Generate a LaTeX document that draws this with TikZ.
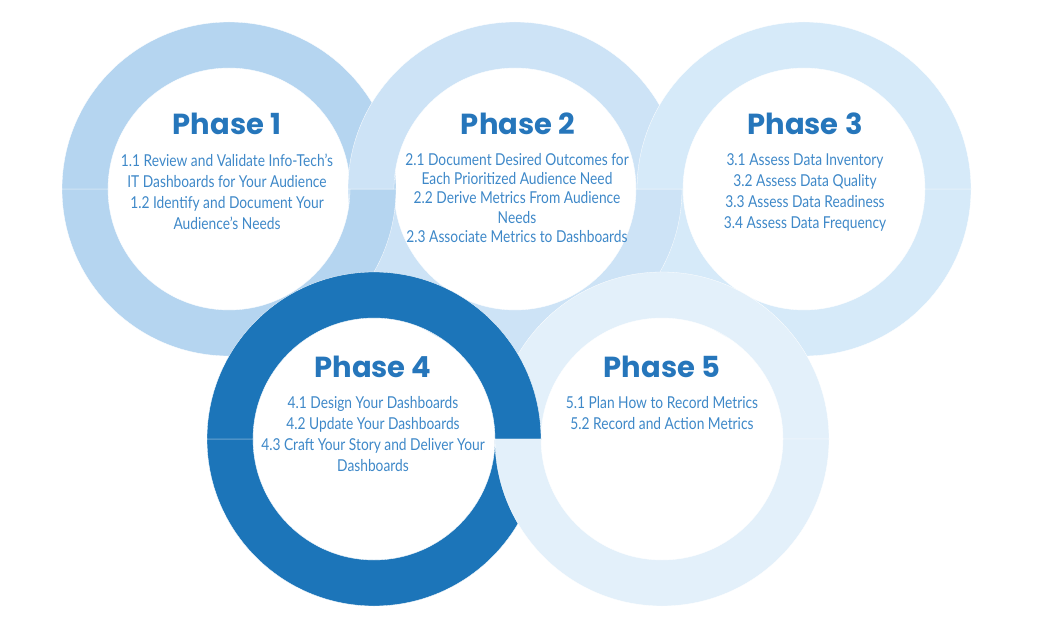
\documentclass[tikz,border=0pt]{standalone}
\usepackage{fontspec}
\newfontfamily\headfont{Poppins}
\newfontfamily\bodyfont{Lato}[FakeStretch=0.84]

\definecolor{ringA}{RGB}{181,213,240}
\definecolor{ringB}{RGB}{205,227,246}
\definecolor{ringC}{RGB}{214,234,249}
\definecolor{ringD}{RGB}{28,117,185}
\definecolor{ringE}{RGB}{227,240,250}
\definecolor{headblue}{RGB}{38,118,187}
\definecolor{textblue}{RGB}{62,136,200}

% half of a ring: centre, colour, start angle (0 = upper half, 180 = lower half)
\newcommand{\halfring}[3]{%
\fill[#2,draw=white,line width=0.3pt,shift={(#1)}] (#3:167) arc[start angle=#3,delta angle=180,radius=167]
	-- (#3+180:121) arc[start angle=#3+180,delta angle=-180,radius=121] -- cycle;}

\begin{document}
\begin{tikzpicture}[x=1pt,y=1pt,
	head/.style={font=\headfont\bfseries\fontsize{29}{32}\selectfont,text=headblue,inner sep=0pt},
	body/.style={font=\bodyfont\fontsize{16.4}{21}\selectfont,text=textblue,align=center,anchor=north,inner sep=0pt}]
\useasboundingbox (0,0) rectangle (1057,630);
\coordinate (c1) at (229,441);
\coordinate (c2) at (515,441);
\coordinate (c3) at (804,441);
\coordinate (c4) at (374,191);
\coordinate (c5) at (662,191);
% rings, woven by halves
\halfring{c3}{ringC}{180}
\halfring{c2}{ringB}{180}
\halfring{c1}{ringA}{180}
\halfring{c1}{ringA}{0}
\halfring{c2}{ringB}{0}
\halfring{c3}{ringC}{0}
\halfring{c4}{ringD}{180}
\halfring{c5}{ringE}{0}
\halfring{c4}{ringD}{0}
\halfring{c5}{ringE}{180}
% texts
\node[head] (h1) at (227,506) {Phase 1};
\node[body] (b1) at (227,476.5) {1.1 Review and Validate Info-Tech’s\\IT Dashboards for Your Audience\\1.2 Identify and Document Your\\Audience’s Needs};
\node[head] (h2) at (518,506) {Phase 2};
\node[body,font=\bodyfont\fontsize{16.4}{19.3}\selectfont] (b2) at (517,477) {2.1 Document Desired Outcomes for\\Each Prioritized Audience Need\\2.2 Derive Metrics From Audience\\Needs\\2.3 Associate Metrics to Dashboards};
\node[head] (h3) at (805,506) {Phase 3};
\node[body] (b3) at (805,476.5) {3.1 Assess Data Inventory\\3.2 Assess Data Quality\\3.3 Assess Data Readiness\\3.4 Assess Data Frequency};
\node[head] (h4) at (373,263) {Phase 4};
\node[body] (b4) at (373,233.5) {4.1 Design Your Dashboards\\4.2 Update Your Dashboards\\4.3 Craft Your Story and Deliver Your\\Dashboards};
\node[head] (h5) at (662,263) {Phase 5};
\node[body] (b5) at (662,233.5) {5.1 Plan How to Record Metrics\\5.2 Record and Action Metrics};
\end{tikzpicture}
\end{document}
